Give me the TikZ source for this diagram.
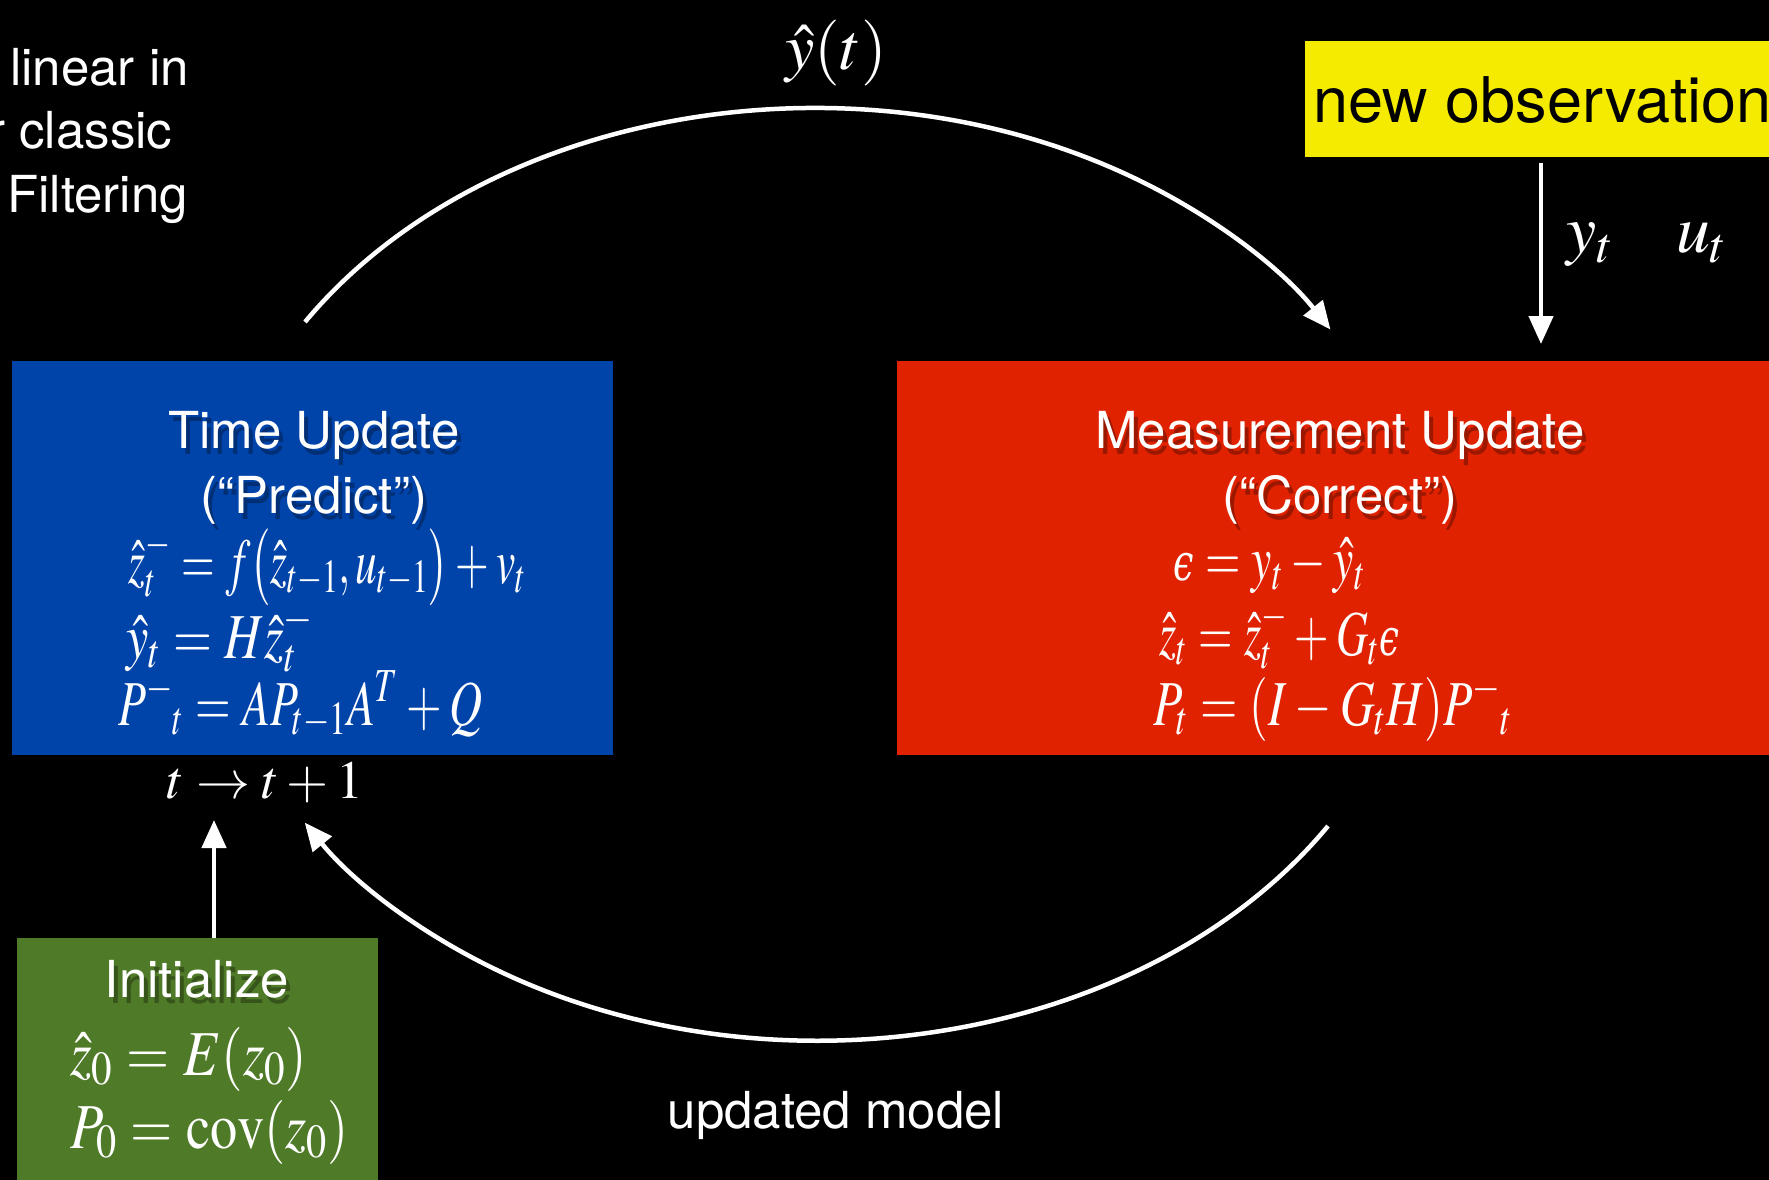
\documentclass[tikz,border=0pt]{standalone}
\usepackage{amsmath}
\usepackage{mathptmx}
\usepackage[no-math]{fontspec}
\setmainfont{TeX Gyre Heros}
\newfontfamily\dvserif{DejaVu Serif}
\usetikzlibrary{arrows.meta}
\definecolor{tublue}{RGB}{0,68,170}
\definecolor{mured}{RGB}{224,34,0}
\definecolor{obsyellow}{RGB}{245,235,0}
\definecolor{initgreen}{RGB}{79,122,40}
\newcommand\fitw[2]{\resizebox{#1}{\height}{$\medmuskip=3mu\thickmuskip=4.5mu #2$}}
\newcommand\lunep{\text{\dvserif\itshape\scalebox{0.8}{ϵ}}}
\begin{document}
\begin{tikzpicture}[x=1pt,y=1pt,
  panel/.style={inner sep=0pt, outer sep=0pt, draw=none},
  sans/.style={inner sep=0pt, text=white, font=\fontsize{51}{60}\selectfont},
  shadowtxt/.style={inner sep=0pt, text=black, opacity=0.3, font=\fontsize{51}{60}\selectfont},
  mtext/.style={inner sep=0pt, text=white, font=\fontsize{64}{70}\selectfont},
  conn/.style={draw=white, line width=4.5pt, -{Triangle[length=28pt,width=24pt]}}]
\useasboundingbox (0,0) rectangle (1769,-1180);
\fill[black] (0,0) rectangle (1769,-1180);
% panels
\node[panel, fill=tublue, minimum width=601pt, minimum height=394pt] (tu) at (312.5,-558) {};
\node[panel, fill=mured, minimum width=886pt, minimum height=394pt] (mu) at (1340,-558) {};
\node[panel, fill=obsyellow, minimum width=485pt, minimum height=116pt] (obs) at (1547.5,-99) {};
\node[panel, fill=initgreen, minimum width=361pt, minimum height=262pt] (init) at (197.5,-1069) {};
% left text
\node[sans, anchor=base west] (l1) at (10,-86) {linear in};
\node[sans, anchor=base west] (l2) at (-12,-149) {r classic};
\node[sans, anchor=base west] (l3) at (7,-212) {Filtering};
% yellow text
\node[inner sep=0pt, anchor=base west, text=black, font=\fontsize{63}{70}\selectfont] (obst) at (1313,-123) {new observation};
% title shadows
\node[shadowtxt, anchor=base] (tus1) at (318,-454) {Time Update};
\node[shadowtxt, anchor=base] (tus2) at (318,-519) {(“Predict”)};
\node[shadowtxt, anchor=base] (mus1) at (1344,-454) {Measurement Update};
\node[shadowtxt, anchor=base] (mus2) at (1344,-519) {(“Correct”)};
\node[shadowtxt, anchor=base] (its1) at (201,-1003) {Initialize};
% time update
\node[sans, anchor=base] (tut1) at (314,-448) {Time Update};
\node[sans, anchor=base] (tut2) at (314,-513) {(“Predict”)};
\node[mtext, anchor=base west] (tue1) at (128,-583) {\fitw{398pt}{\hat z_t^- = f\bigl(\hat z_{t-1},u_{t-1}\bigr)+v_t}};
\node[mtext, anchor=base west] (tue2) at (126,-658) {\fitw{187pt}{\hat y_t = H\hat z_t^-}};
\node[mtext, anchor=base west] (tue3) at (118,-725) {\fitw{364pt}{P^-{}_t = AP_{t-1}A^T+Q}};
% measurement update
\node[sans, anchor=base] (mut1) at (1340,-448) {Measurement Update};
\node[sans, anchor=base] (mut2) at (1340,-513) {(“Correct”)};
\node[mtext, anchor=base west] (mue1) at (1173,-580) {\fitw{192pt}{\lunep = y_t - \hat y_t}};
\node[mtext, anchor=base west] (mue2) at (1159,-655) {\fitw{240pt}{\hat z_t = \hat z_t^- + G_t\lunep}};
\node[mtext, anchor=base west] (mue3) at (1153,-725) {\fitw{359pt}{P_t = (I-G_tH)P^-{}_t}};
% initialize
\node[sans, anchor=base] (it1) at (197,-997) {Initialize};
\node[mtext, anchor=base west] (ie1) at (70,-1075) {\fitw{237pt}{\hat z_0 = E(z_0)}};
\node[mtext, anchor=base west] (ie2) at (70,-1148) {\fitw{278pt}{P_0 = \mathrm{cov}(z_0)}};
% time step
\node[inner sep=0pt, text=white, font=\fontsize{54}{60}\selectfont, anchor=base] (ts) at (265,-798) {$t\rightarrow t+1$};
% labels
\node[inner sep=0pt, text=white, font=\fontsize{66}{70}\selectfont, anchor=base] (yh) at (836,-70) {$\hat y(t)$};
\node[inner sep=0pt, text=white, font=\fontsize{68}{70}\selectfont, anchor=base west] (yt) at (1566,-252) {$y_t$};
\node[inner sep=0pt, text=white, font=\fontsize{68}{70}\selectfont, anchor=base west] (ut) at (1676,-252) {$u_t$};
\node[sans, anchor=base] (um) at (836,-1128) {updated model};
% connectors
\coordinate (ta) at (305,-322);
\coordinate (mb) at (1328,-826);
\coordinate (o1) at (1541,-163);
\coordinate (o2) at (1541,-344);
\coordinate (g1) at (214,-938);
\coordinate (g2) at (214,-820);
\draw[conn] (ta) arc[start angle=147.4, end angle=31.5, x radius=605pt, y radius=464pt];
\draw[conn] (mb) arc[start angle=-32.5, end angle=-148, x radius=605pt, y radius=464pt];
\draw[conn] (o1) -- (o2);
\draw[conn] (g1) -- (g2);
\end{tikzpicture}
\end{document}
